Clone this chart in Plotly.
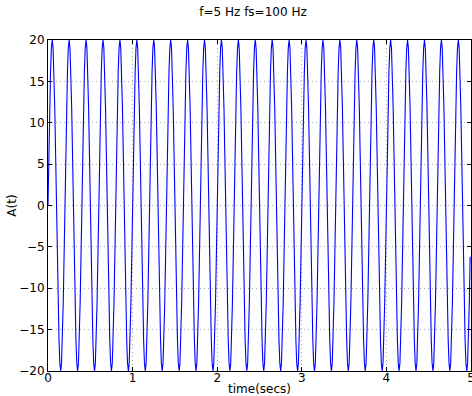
import plotly.graph_objects as go

# Signal parameters (from title)
f_hz = 5
fs_hz = 100
duration_s = 5

cycle_values = [0.0, 6.18, 11.76, 16.18, 19.02, 20.0, 19.02, 16.18, 11.76, 6.18,
                0.0, -6.18, -11.76, -16.18, -19.02, -20.0, -19.02, -16.18, -11.76, -6.18]
n_cycles = 25

x_ticks = [0, 1, 2, 3, 4, 5]
y_ticks = [-20, -15, -10, -5, 0, 5, 10, 15, 20]

amplitude = cycle_values * n_cycles
times = [i / fs_hz for i in range(len(amplitude))]

fig = go.Figure()
fig.add_trace(go.Scatter(x=times, y=amplitude, mode="lines",
                         line=dict(color="#0000ff", width=1.1)))

font = dict(family="DejaVu Sans", size=12, color="black")
axis_common = dict(
    showline=True, linecolor="black", linewidth=1, mirror="ticks",
    ticks="inside", ticklen=4, tickwidth=1, tickcolor="black",
    showgrid=True, gridcolor="#aaaaaa", griddash="1px,3px", gridwidth=1,
    zeroline=False, tickfont=font, automargin=False, ticklabeloverflow="allow",
)

fig.update_layout(
    width=472, height=396,
    margin=dict(l=48, r=1, t=40, b=25),
    paper_bgcolor="white", plot_bgcolor="white",
    showlegend=False,
    font=font,
    title=dict(text="f=5 Hz fs=100 Hz", x=253 / 472, xanchor="center",
               y=1 - 12 / 396, yanchor="middle",
               font=dict(family="DejaVu Sans", size=12, color="black")),
    xaxis=dict(range=[0, duration_s], tickvals=x_ticks, ticktext=[str(v) for v in x_ticks],
               ticklabelstandoff=-4,
               title=dict(text="time(secs)", font=font, standoff=8), **axis_common),
    yaxis=dict(range=[-20, 20], tickvals=y_ticks, ticktext=[str(v).replace("-", "\u2212") for v in y_ticks],
               title=dict(text="A(t)", font=font, standoff=0), **axis_common),
)

fig.write_html("out.html", config={"displayModeBar": False},
               post_script="document.body.style.margin='0';document.body.style.overflow='hidden';")
